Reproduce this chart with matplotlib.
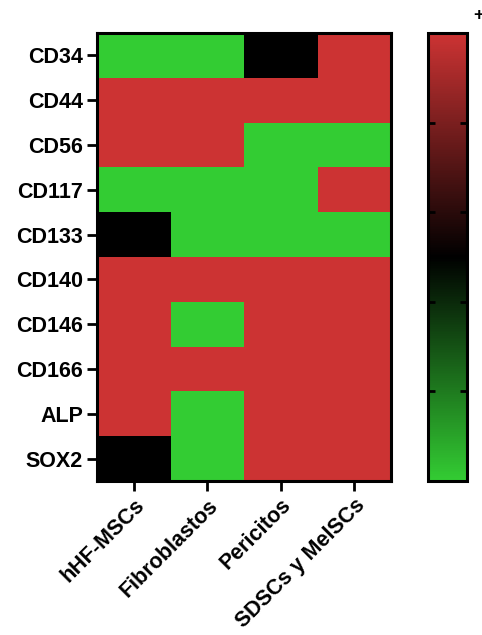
import numpy as np
import matplotlib
matplotlib.use("Agg")
import matplotlib.pyplot as plt
from matplotlib.colors import LinearSegmentedColormap

rows = ["CD34", "CD44", "CD56", "CD117", "CD133", "CD140", "CD146", "CD166", "ALP", "SOX2"]
cols = ["hHF-MSCs", "Fibroblastos", "Pericitos", "SDSCs y MelSCs"]
# 1 = expressed (red), 0 = undetermined (black), -1 = not expressed (green)
values = [
    [-1, -1, 0, 1],
    [1, 1, 1, 1],
    [1, 1, -1, -1],
    [-1, -1, -1, 1],
    [0, -1, -1, -1],
    [1, 1, 1, 1],
    [1, -1, 1, 1],
    [1, 1, 1, 1],
    [1, -1, 1, 1],
    [0, -1, 1, 1],
]

plt.rcParams['font.family'] = ['Liberation Sans', 'DejaVu Sans']
cmap = LinearSegmentedColormap.from_list("gbr", ["#33CC33", "#000000", "#CC3333"])

fig = plt.figure(figsize=(4.82, 6.35), dpi=100)
ax = fig.add_axes([0.201, 0.2425, 0.610, 0.7055])
data = np.array(values)
im = ax.imshow(data, cmap=cmap, vmin=-1, vmax=1, aspect='auto', interpolation='nearest')

ax.set_xticks(range(len(cols)))
ax.set_xticklabels(cols, rotation=45, ha='right', rotation_mode='anchor',
                   fontsize=15.5, fontweight='bold')
ax.set_yticks(range(len(rows)))
ax.set_yticklabels(rows, fontsize=15.5, fontweight='bold')
ax.tick_params(axis='both', direction='out', length=7, width=2, pad=3)
for s in ax.spines.values():
    s.set_linewidth(2.2)

cax = fig.add_axes([0.888, 0.2425, 0.081, 0.7055])
cb = fig.colorbar(im, cax=cax)
cb.outline.set_linewidth(2.2)
cb.set_ticks(np.linspace(-1, 1, 6))
cb.set_ticklabels([""] * 6)
cax.tick_params(axis='y', direction='in', length=5, width=2, left=True, right=True)
fig.text(0.992, 0.975, "+", fontsize=13, fontweight='bold', ha='center', va='center')

fig.savefig("out.png", dpi=100)
